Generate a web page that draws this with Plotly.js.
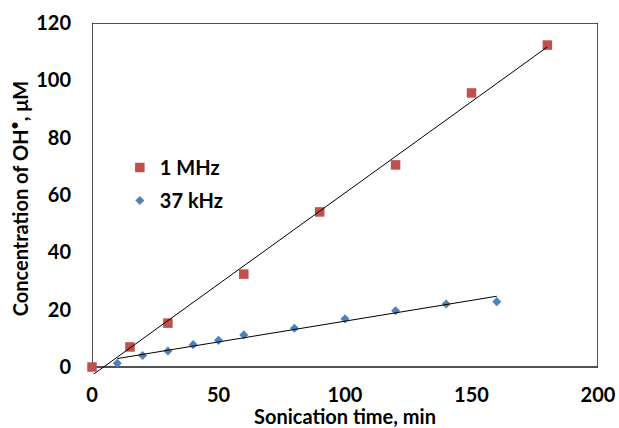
<!DOCTYPE html>
<html>
<head>
<meta charset="utf-8">
<script src="https://cdn.plot.ly/plotly-3.0.1.min.js"></script>
<style>html,body{margin:0;padding:0;background:#fff;}#chart{width:619px;height:428px;}</style>
</head>
<body>
<div id="chart"></div>
<script>
// Data
var mhzTime = [0, 15, 30, 60, 90, 120, 150, 180];
var mhzConc = [0, 7.0, 15.3, 32.4, 54.1, 70.5, 95.6, 112.3];
var khzTime = [10, 20, 30, 40, 50, 60, 80, 100, 120, 140, 160];
var khzConc = [1.3, 4.0, 5.6, 7.8, 9.3, 11.2, 13.5, 16.8, 19.6, 22.0, 22.8];
var seriesNames = ['1 MHz', '37 kHz'];
var xTicks = [0, 50, 100, 150, 200];
var yTicks = [0, 20, 40, 60, 80, 100, 120];

function linFit(xs, ys) {
  var n = xs.length, mx = 0, my = 0;
  for (var i = 0; i < n; i++) { mx += xs[i]; my += ys[i]; }
  mx /= n; my /= n;
  var sxy = 0, sxx = 0;
  for (var j = 0; j < n; j++) { sxy += (xs[j]-mx)*(ys[j]-my); sxx += (xs[j]-mx)*(xs[j]-mx); }
  var b = sxy / sxx, a = my - b*mx;
  var x0 = Math.min.apply(null, xs), x1 = Math.max.apply(null, xs);
  return {x: [x0, x1], y: [a + b*x0, a + b*x1]};
}
var fitM = linFit(mhzTime, mhzConc);
var fitK = linFit(khzTime, khzConc);

var FONT = 'Lato, "Open Sans", sans-serif';
var F20 = {family: FONT, size: 20, color: '#000', weight: 'bold'};

var traces = [
  {x: mhzTime, y: mhzConc, type: 'scatter', mode: 'markers', name: seriesNames[0],
   legendgroup: 'a', cliponaxis: false,
   marker: {symbol: 'square', size: 9.5, color: '#C0504D'}},
  {x: khzTime, y: khzConc, type: 'scatter', mode: 'markers', name: seriesNames[1],
   legendgroup: 'b', cliponaxis: false,
   marker: {symbol: 'diamond', size: 7, color: '#4F81BD'}},
  {x: fitM.x, y: fitM.y, type: 'scatter', mode: 'lines', showlegend: false,
   line: {color: '#000', width: 1}, hoverinfo: 'skip'},
  {x: fitK.x, y: fitK.y, type: 'scatter', mode: 'lines', showlegend: false,
   line: {color: '#000', width: 1}, hoverinfo: 'skip'}
];

var layout = {
  width: 619, height: 428,
  margin: {l: 92, r: 21, t: 23, b: 54},
  paper_bgcolor: '#fff', plot_bgcolor: '#fff',
  font: F20,
  showlegend: true,
  legend: {x: 0.055, y: 0.644, xanchor: 'left', yanchor: 'top',
           traceorder: 'grouped', tracegroupgap: 4,
           bgcolor: 'rgba(0,0,0,0)', font: F20},
  xaxis: {range: [0, 200], tickvals: xTicks, ticktext: xTicks.map(String),
          showgrid: false, zeroline: false, showline: false, ticks: '',
          ticklabelstandoff: 7, tickfont: F20,
          title: {text: 'Sonication time, min', standoff: 3, font: F20}},
  yaxis: {range: [-2.44, 120], tickvals: yTicks, ticktext: yTicks.map(String),
          showgrid: false, zeroline: false, showline: false, ticks: '',
          ticklabelstandoff: 20, tickfont: F20,
          title: {text: 'Concentration of OH<sup>•</sup>, μM', standoff: 2, font: F20}},
  shapes: [{type: 'rect', xref: 'x', yref: 'y', x0: 0, x1: 200, y0: 0, y1: 120,
            line: {color: '#1a1a1a', width: 1.5}, layer: 'below'}]
};

Plotly.newPlot('chart', traces, layout, {displayModeBar: false, staticPlot: true});
</script>
</body>
</html>
